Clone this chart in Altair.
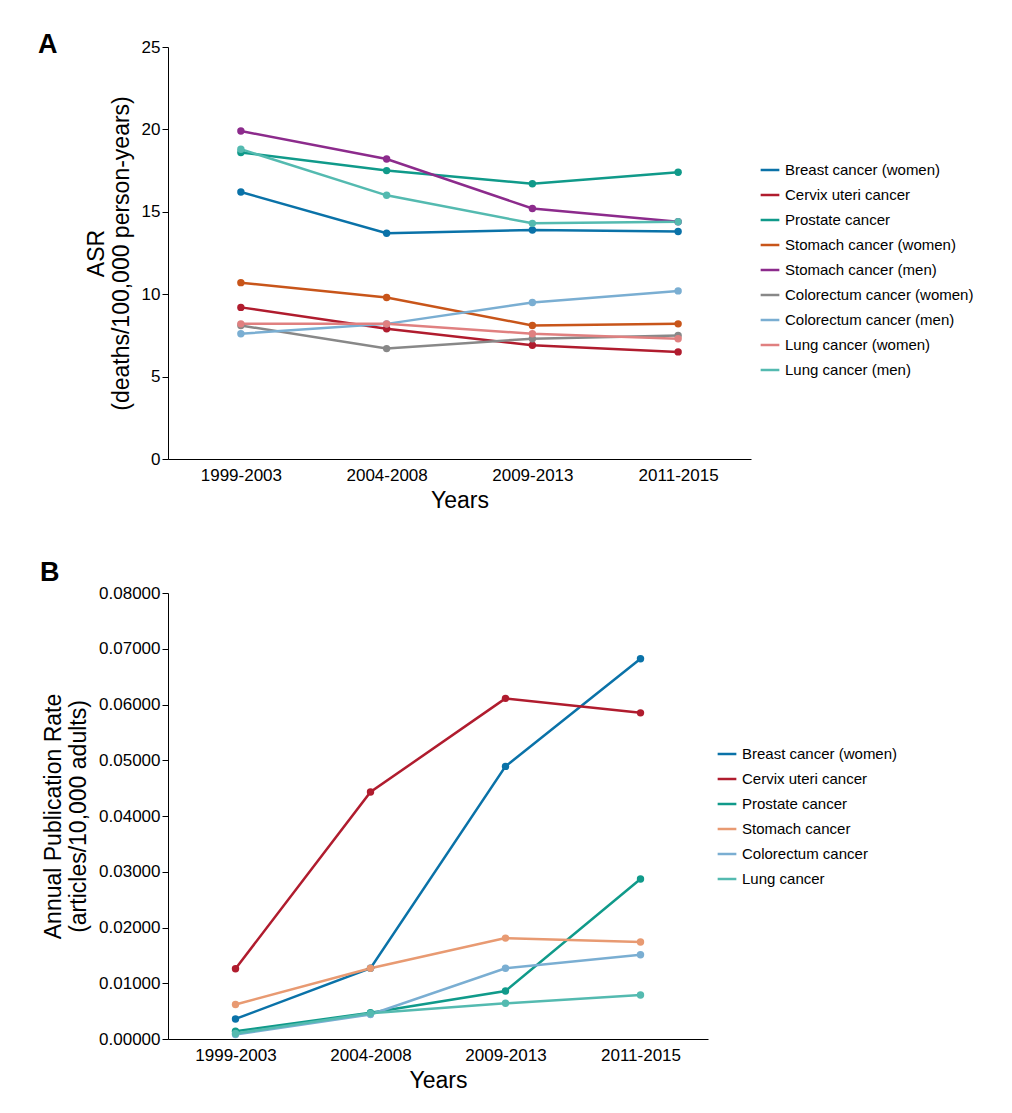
import altair as alt
import pandas as pd

periods = ["1999-2003", "2004-2008", "2009-2013", "2011-2015"]

series_a = [
    "Breast cancer (women)", "Cervix uteri cancer", "Prostate cancer",
    "Stomach cancer (women)", "Stomach cancer (men)", "Colorectum cancer (women)",
    "Colorectum cancer (men)", "Lung cancer (women)", "Lung cancer (men)",
]
colors_a = ["#0a72a8", "#b01c2e", "#109a8a", "#c8551a", "#8c2b8c",
            "#888888", "#7aaed2", "#e08080", "#54bab0"]
asr = {
    "Breast cancer (women)": [16.2, 13.7, 13.9, 13.8],
    "Cervix uteri cancer": [9.2, 7.9, 6.9, 6.5],
    "Prostate cancer": [18.6, 17.5, 16.7, 17.4],
    "Stomach cancer (women)": [10.7, 9.8, 8.1, 8.2],
    "Stomach cancer (men)": [19.9, 18.2, 15.2, 14.4],
    "Colorectum cancer (women)": [8.1, 6.7, 7.3, 7.5],
    "Colorectum cancer (men)": [7.6, 8.2, 9.5, 10.2],
    "Lung cancer (women)": [8.2, 8.2, 7.6, 7.3],
    "Lung cancer (men)": [18.8, 16.0, 14.3, 14.4],
}

series_b = ["Breast cancer (women)", "Cervix uteri cancer", "Prostate cancer",
            "Stomach cancer", "Colorectum cancer", "Lung cancer"]
colors_b = ["#0a72a8", "#b01c2e", "#109a8a", "#e89a72", "#7aaed2", "#54bab0"]
pub_rate = {
    "Breast cancer (women)": [0.0036, 0.0127, 0.0489, 0.0682],
    "Cervix uteri cancer": [0.0126, 0.0443, 0.0611, 0.0585],
    "Prostate cancer": [0.0014, 0.0047, 0.0086, 0.0287],
    "Stomach cancer": [0.0062, 0.0127, 0.0181, 0.0174],
    "Colorectum cancer": [0.0008, 0.0044, 0.0127, 0.0151],
    "Lung cancer": [0.0010, 0.0046, 0.0064, 0.0079],
}


def to_long(d):
    rows = []
    for s, vals in d.items():
        for p, v in zip(periods, vals):
            rows.append({"series": s, "period": p, "value": v})
    return pd.DataFrame(rows)


def panel(df, order, colors, ytitle, ydomain, yfmt, tick_count, label, w, h,
          legend_y, tag_x, tag_y):
    color = alt.Color(
        "series:N", sort=order, scale=alt.Scale(domain=order, range=colors),
        legend=alt.Legend(title=None, orient="none", legendX=w + 8, legendY=legend_y,
                          labelFontSize=15, labelLimit=215, symbolType="stroke",
                          symbolStrokeWidth=2.5, symbolSize=350, rowPadding=6),
    )
    base = alt.Chart(df).encode(
        x=alt.X("period:N", sort=periods, title="Years",
                axis=alt.Axis(labelAngle=0, labelFontSize=17, titleFontSize=23,
                              titleFontWeight="normal", ticks=False, labelPadding=8,
                              domainColor="black", titlePadding=6, labelColor="black")),
        y=alt.Y("value:Q", title=ytitle, scale=alt.Scale(domain=ydomain, nice=False),
                axis=alt.Axis(format=yfmt, tickCount=tick_count, grid=False, labelFontSize=17,
                              titleFontSize=23, titleFontWeight="normal", domainColor="black",
                              tickColor="black", tickSize=6, titlePadding=8, labelColor="black")),
        color=color,
    )
    lines = base.mark_line(strokeWidth=2.5)
    points = base.mark_circle(size=55, opacity=1)
    tag = alt.Chart(pd.DataFrame({"t": [label]})).mark_text(
        fontSize=27, fontWeight="bold", align="left", baseline="middle", color="black"
    ).encode(text="t:N", x=alt.value(tag_x), y=alt.value(tag_y))
    return (lines + points + tag).properties(width=w, height=h)


chart_a = panel(to_long(asr), series_a, colors_a,
                ["ASR", "(deaths/100,000 person-years)"], [0, 25], "d", 5, "A",
                583, 412, 112, -130, -2)
chart_b = panel(to_long(pub_rate), series_b, colors_b,
                ["Annual Publication Rate", "(articles/10,000 adults)"], [0, 0.08], ".5f", 8,
                "B", 540, 446, 150, -128, -20)

chart = alt.vconcat(chart_a, chart_b, spacing=47).resolve_scale(color="independent").configure(
    font="Liberation Sans", view=alt.ViewConfig(stroke=None)
).properties(padding={"left": 30, "top": 23, "right": 0, "bottom": 0})

chart.save("out.html", embed_options={"renderer": "svg", "actions": False})
